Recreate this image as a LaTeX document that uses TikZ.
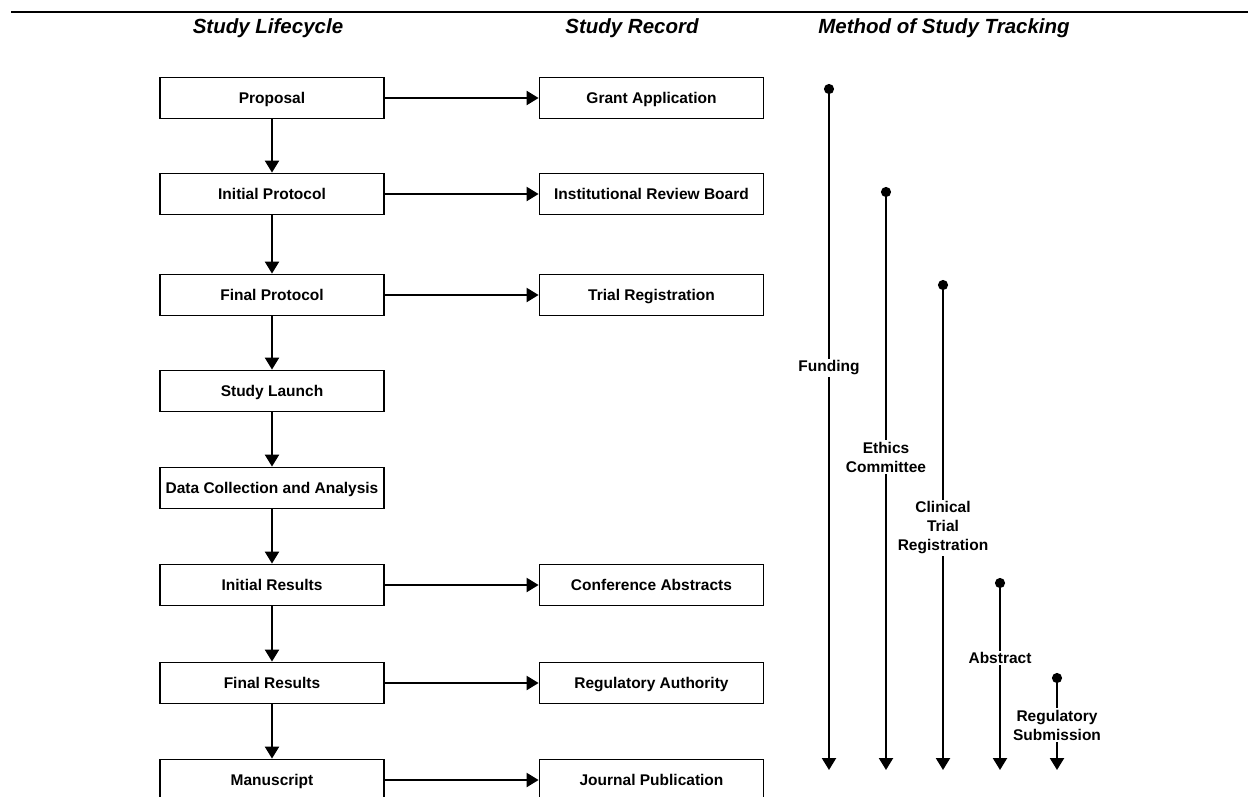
\documentclass[tikz,border=0pt]{standalone}
\usepackage{fontspec}
\setmainfont{Liberation Sans}
\usetikzlibrary{arrows.meta}

\begin{document}
\begin{tikzpicture}[x=1pt, y=-1pt,
    box/.style={draw, line width=1.8pt, minimum width=224pt,
                minimum height=41pt, inner sep=0pt, align=center,
                text height=11pt, text depth=0pt,
                font=\bfseries\fontsize{15.5}{19}\selectfont},
    head/.style={font=\bfseries\itshape\fontsize{20.5}{24}\selectfont},
    arrow/.style={-{Triangle[length=12pt,width=14pt]}, line width=2.2pt},
    track/.style={{Circle[length=10pt]}-{Triangle[length=12pt,width=14pt]},
                  line width=2.2pt},
    tracklabel/.style={fill=white, inner sep=1.5pt, align=center,
                       font=\bfseries\fontsize{15.5}{19}\selectfont}
  ]
    \useasboundingbox (0,0) rectangle (1248,796);

    % Rule and headings
    \coordinate (ruleL) at (11,12);
    \coordinate (ruleR) at (1248,12);
    \draw[line width=2.2pt] (ruleL) -- (ruleR);
    \node[head] (hlife) at (268,28) {Study Lifecycle};
    \node[head] (hrec) at (632,28) {Study Record};
    \node[head] (htrack) at (944,28) {Method of Study Tracking};

    % Study lifecycle
    \node[box] (proposal) at (272,98) {Proposal};
    \node[box] (iprot) at (272,194) {Initial Protocol};
    \node[box] (fprot) at (272,295) {Final Protocol};
    \node[box] (launch) at (272,391) {Study Launch};
    \node[box] (data) at (272,488) {Data Collection and Analysis};
    \node[box] (iresults) at (272,585) {Initial Results};
    \node[box] (fresults) at (272,683) {Final Results};
    \node[box] (manuscript) at (272,780) {Manuscript};

    % Study records
    \node[box] (grant) at (651.5,98) {Grant Application};
    \node[box] (irb) at (651.5,194) {Institutional Review Board};
    \node[box] (trial) at (651.5,295) {Trial Registration};
    \node[box] (abstracts) at (651.5,585) {Conference Abstracts};
    \node[box] (regauth) at (651.5,683) {Regulatory Authority};
    \node[box] (journal) at (651.5,780) {Journal Publication};

    % Lifecycle arrows
    \draw[arrow] (proposal) -- (iprot);
    \draw[arrow] (iprot) -- (fprot);
    \draw[arrow] (fprot) -- (launch);
    \draw[arrow] (launch) -- (data);
    \draw[arrow] (data) -- (iresults);
    \draw[arrow] (iresults) -- (fresults);
    \draw[arrow] (fresults) -- (manuscript);

    % Record arrows
    \draw[arrow] (proposal) -- (grant);
    \draw[arrow] (iprot) -- (irb);
    \draw[arrow] (fprot) -- (trial);
    \draw[arrow] (iresults) -- (abstracts);
    \draw[arrow] (fresults) -- (regauth);
    \draw[arrow] (manuscript) -- (journal);

    % Tracking
    \coordinate (fundS) at (829,84);
    \coordinate (fundE) at (829,770);
    \coordinate (ethS) at (886,187);
    \coordinate (ethE) at (886,770);
    \coordinate (ctrS) at (943,280);
    \coordinate (ctrE) at (943,770);
    \coordinate (absS) at (1000,578);
    \coordinate (absE) at (1000,770);
    \coordinate (regS) at (1057,673);
    \coordinate (regE) at (1057,770);
    \draw[track] (fundS) -- (fundE);
    \draw[track] (ethS) -- (ethE);
    \draw[track] (ctrS) -- (ctrE);
    \draw[track] (absS) -- (absE);
    \draw[track] (regS) -- (regE);
    \node[tracklabel] (funding) at (829,368) {Funding};
    \node[tracklabel] (ethics) at (886,457) {Ethics\\Committee};
    \node[tracklabel] (ctr) at (943,528) {Clinical\\Trial\\Registration};
    \node[tracklabel] (abstract) at (1000,658) {Abstract};
    \node[tracklabel] (regsub) at (1057,725) {Regulatory\\Submission};
  \end{tikzpicture}
\end{document}
